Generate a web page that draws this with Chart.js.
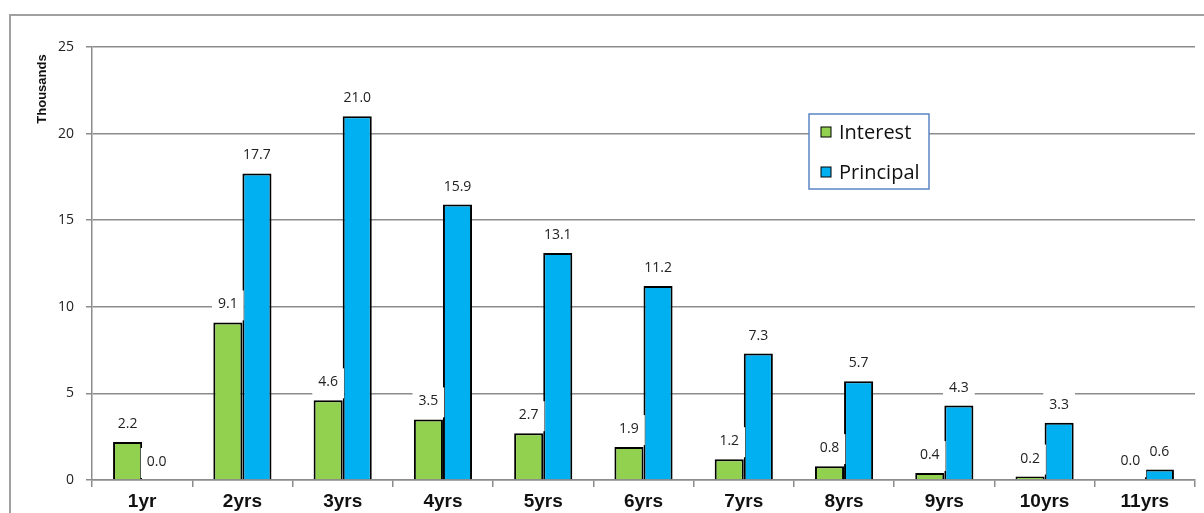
<!DOCTYPE html>
<html>
<head>
<meta charset="utf-8">
<script src="https://cdn.jsdelivr.net/npm/chart.js@4.4.1/dist/chart.umd.min.js"></script>
<style>
  html, body { margin: 0; padding: 0; background: #fff; overflow: hidden; }
  #wrap { position: relative; width: 1204px; height: 513px; }
  #frame { position: absolute; left: 9px; top: 14px; width: 1300px; height: 600px; border: 2px solid #a0a0a0; box-sizing: border-box; }
  canvas { position: absolute; left: 0; top: 0; }
</style>
</head>
<body>
<div id="wrap">
  <div id="frame"></div>
  <canvas id="chart" width="1204" height="513"></canvas>
</div>
<script>
// chart data
const categories = ["1yr", "2yrs", "3yrs", "4yrs", "5yrs", "6yrs", "7yrs", "8yrs", "9yrs", "10yrs", "11yrs"];
const interest = [2.2, 9.1, 4.6, 3.5, 2.7, 1.9, 1.2, 0.8, 0.4, 0.2, 0.04];
const principal = [0.0, 17.7, 21.0, 15.9, 13.1, 11.2, 7.3, 5.7, 4.3, 3.3, 0.6];
const yTicks = [0, 5, 10, 15, 20, 25];
const yTitle = "Thousands";

const GREEN = "#92D050";
const BLUE = "#00B0F0";
const GRID = "#8c8c8c";

// value labels with white box behind, like Excel
const valueLabels = {
  id: "valueLabels",
  afterDatasetsDraw(chart) {
    const ctx = chart.ctx;
    ctx.save();
    ctx.font = "14px 'Open Sans', 'Liberation Sans', sans-serif";
    ctx.textAlign = "center";
    ctx.textBaseline = "middle";
    chart.data.datasets.forEach((ds, i) => {
      chart.getDatasetMeta(i).data.forEach((bar, j) => {
        const txt = ds.data[j].toFixed(1);
        const w = ctx.measureText(txt).width + 12;
        const cy = bar.y - 18;
        ctx.fillStyle = "#fff";
        ctx.fillRect(bar.x - w / 2, cy - 14, w, 30);
        ctx.fillStyle = "#222";
        ctx.fillText(txt, bar.x, cy);
      });
    });
    ctx.restore();
  }
};

// legend box inside the plot and the axis title
const extras = {
  id: "extras",
  afterDraw(chart) {
    const ctx = chart.ctx;
    ctx.save();
    // axis title
    ctx.translate(42, 89);
    ctx.rotate(-Math.PI / 2);
    ctx.font = "bold 13px 'Liberation Sans', Arial, sans-serif";
    ctx.fillStyle = "#111";
    ctx.textAlign = "center";
    ctx.textBaseline = "middle";
    ctx.fillText(yTitle, 0, 0);
    ctx.restore();

    // legend
    ctx.save();
    const lx = 809, ly = 114, lw = 120, lh = 75;
    ctx.fillStyle = "#fff";
    ctx.fillRect(lx, ly, lw, lh);
    ctx.strokeStyle = "#5b85c4";
    ctx.lineWidth = 1.5;
    ctx.strokeRect(lx, ly, lw, lh);
    ctx.font = "20px 'Open Sans', 'Liberation Sans', sans-serif";
    ctx.textBaseline = "middle";
    chart.data.datasets.forEach((ds, i) => {
      const cy = ly + 18 + i * 40;
      ctx.fillStyle = ds.backgroundColor;
      ctx.fillRect(lx + 12, cy - 5, 10, 10);
      ctx.strokeStyle = "#000";
      ctx.lineWidth = 1;
      ctx.strokeRect(lx + 12, cy - 5, 10, 10);
      ctx.fillStyle = "#111";
      ctx.fillText(ds.label, lx + 30, cy + 1);
    });
    ctx.restore();
  }
};

new Chart(document.getElementById("chart"), {
  type: "bar",
  data: {
    labels: categories,
    datasets: [
      { label: "Interest", data: interest, backgroundColor: GREEN, borderColor: "#000", borderWidth: 2 },
      { label: "Principal", data: principal, backgroundColor: BLUE, borderColor: "#000", borderWidth: 2 }
    ]
  },
  options: {
    responsive: false,
    animation: false,
    devicePixelRatio: 1,
    categoryPercentage: 0.58,
    barPercentage: 1.0,
    layout: { padding: { left: 0, top: 47, right: 9, bottom: 0 } },
    plugins: {
      legend: { display: false },
      tooltip: { enabled: false }
    },
    scales: {
      x: {
        afterFit(scale) { scale.height = 33; },
        grid: { offset: true, drawOnChartArea: false, color: GRID, tickLength: 7, lineWidth: 1.5 },
        border: { color: GRID, width: 1.5 },
        ticks: {
          color: "#111",
          padding: 3,
          font: { family: "'Liberation Sans', Arial, sans-serif", size: 19, weight: "bold" }
        }
      },
      y: {
        min: 0,
        max: 25,
        afterFit(scale) { scale.width = 92; },
        afterBuildTicks(scale) { scale.ticks = yTicks.map(v => ({ value: v })); },
        grid: { color: GRID, tickLength: 6, lineWidth: 1.5 },
        border: { color: GRID, width: 1.5 },
        ticks: {
          color: "#222",
          padding: 12,
          font: { family: "'Open Sans', 'Liberation Sans', sans-serif", size: 14 }
        }
      }
    }
  },
  plugins: [valueLabels, extras]
});
</script>
</body>
</html>
